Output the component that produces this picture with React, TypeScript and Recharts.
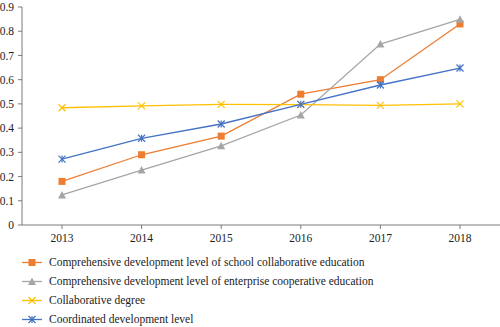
import React from 'react';
import { LineChart, Line, XAxis, YAxis } from 'recharts';

const years = ['2013', '2014', '2015', '2016', '2017', '2018'];
const schoolLevel = [0.18, 0.29, 0.367, 0.54, 0.6, 0.83];
const enterpriseLevel = [0.124, 0.227, 0.327, 0.454, 0.747, 0.849];
const collaborativeDegree = [0.484, 0.492, 0.498, 0.497, 0.494, 0.5];
const coordinatedLevel = [0.272, 0.358, 0.417, 0.498, 0.578, 0.648];
const yTicks = [0, 0.1, 0.2, 0.3, 0.4, 0.5, 0.6, 0.7, 0.8, 0.9];

const seriesNames = [
  'Comprehensive development level of school collaborative education',
  'Comprehensive development level of enterprise cooperative education',
  'Collaborative degree',
  'Coordinated development level',
];
const seriesColors = ['#ED7D31', '#A5A5A5', '#FFC000', '#4472C4'];
const seriesShapes = ['square', 'triangle', 'x', 'star'];
const seriesKeys = ['school', 'enterprise', 'degree', 'coordinated'];

const data = years.map((y, i) => ({
  year: y,
  school: schoolLevel[i],
  enterprise: enterpriseLevel[i],
  degree: collaborativeDegree[i],
  coordinated: coordinatedLevel[i],
}));

const FONT = '"Liberation Serif", "Times New Roman", serif';

function MarkerShape({ cx, cy, shape, color }: { cx: number; cy: number; shape: string; color: string }) {
  if (cx == null || cy == null) return null;
  const s = 3.5;
  if (shape === 'square') {
    return <rect x={cx - s} y={cy - s} width={2 * s} height={2 * s} fill={color} />;
  }
  if (shape === 'triangle') {
    return (
      <polygon
        points={`${cx},${cy - s - 0.5} ${cx + s + 0.5},${cy + s} ${cx - s - 0.5},${cy + s}`}
        fill={color}
      />
    );
  }
  if (shape === 'x') {
    return (
      <g stroke={color} strokeWidth={1.2}>
        <line x1={cx - s} y1={cy - s} x2={cx + s} y2={cy + s} />
        <line x1={cx - s} y1={cy + s} x2={cx + s} y2={cy - s} />
      </g>
    );
  }
  return (
    <g stroke={color} strokeWidth={1.2}>
      <line x1={cx - s} y1={cy - s} x2={cx + s} y2={cy + s} />
      <line x1={cx - s} y1={cy + s} x2={cx + s} y2={cy - s} />
      <line x1={cx} y1={cy - s} x2={cx} y2={cy + s} />
    </g>
  );
}

const makeDot = (shape: string, color: string) => (props: any) => (
  <MarkerShape key={`${shape}-${props.index}`} cx={props.cx} cy={props.cy} shape={shape} color={color} />
);

export default function App() {
  return (
    <div style={{ position: 'absolute', left: 0, top: 0, width: 500, height: 327, background: '#fff', fontFamily: FONT }}>
      <LineChart width={500} height={250} data={data} margin={{ top: 7, right: 0, bottom: 0, left: 0 }}>
        <XAxis
          dataKey="year"
          padding={{ left: 40, right: 40 }}
          height={25}
          tickSize={4}
          tickMargin={5}
          stroke="#7a7a7a"
          tick={{ fill: '#222', fontSize: 11.5, fontFamily: FONT }}
          axisLine={{ stroke: '#7a7a7a' }}
          tickLine={{ stroke: '#7a7a7a' }}
        />
        <YAxis
          width={22}
          domain={[0, 0.9]}
          ticks={yTicks}
          interval={0}
          tickSize={4}
          tickMargin={4}
          stroke="#7a7a7a"
          tick={{ fill: '#222', fontSize: 11.5, fontFamily: FONT }}
          axisLine={{ stroke: '#7a7a7a' }}
          tickLine={{ stroke: '#7a7a7a' }}
        />
        {seriesKeys.map((k, i) => (
          <Line
            key={k}
            dataKey={k}
            name={seriesNames[i]}
            stroke={seriesColors[i]}
            strokeWidth={1.3}
            isAnimationActive={false}
            dot={makeDot(seriesShapes[i], seriesColors[i])}
            activeDot={false}
            type="linear"
          />
        ))}
      </LineChart>
      <div style={{ position: 'absolute', left: 22, top: 252.5 }}>
        {seriesNames.map((n, i) => (
          <div key={n} style={{ display: 'flex', alignItems: 'center', height: 19, fontSize: 11.5, color: '#222', whiteSpace: 'nowrap' }}>
            <svg width={20} height={19} style={{ marginRight: 7 }}>
              <line x1={0} y1={9.5} x2={20} y2={9.5} stroke={seriesColors[i]} strokeWidth={1.3} />
              <MarkerShape cx={10} cy={9.5} shape={seriesShapes[i]} color={seriesColors[i]} />
            </svg>
            <span>{n}</span>
          </div>
        ))}
      </div>
    </div>
  );
}
